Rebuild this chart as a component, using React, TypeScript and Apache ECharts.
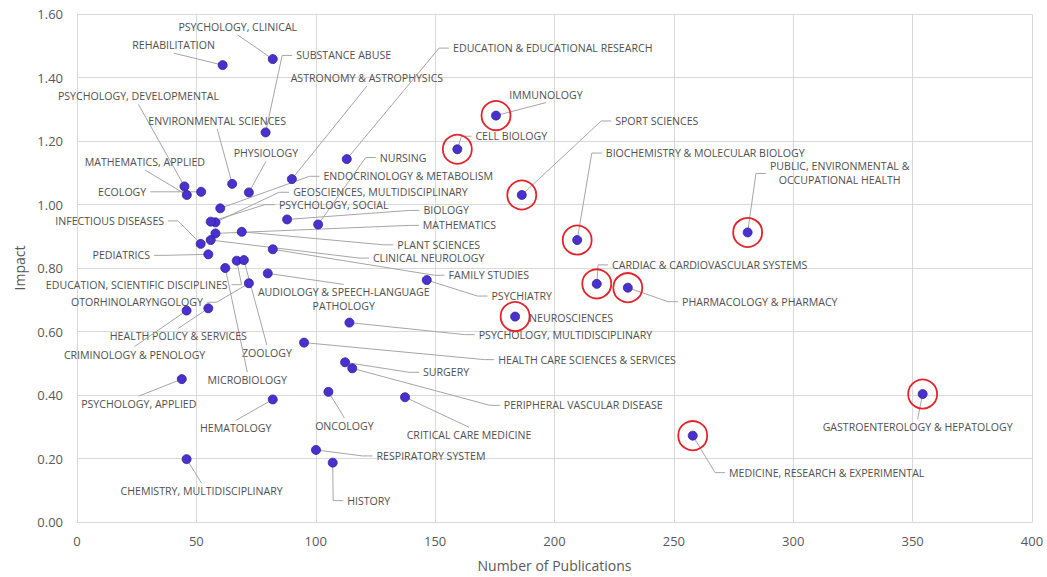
import React, { useEffect, useRef } from "react";
import * as echarts from "echarts";

// ---------- data ----------
const categories: string[] = [
  "PSYCHOLOGY, CLINICAL",
  "REHABILITATION",
  "SUBSTANCE ABUSE",
  "ASTRONOMY & ASTROPHYSICS",
  "PSYCHOLOGY, DEVELOPMENTAL",
  "ENVIRONMENTAL SCIENCES",
  "MATHEMATICS, APPLIED",
  "ECOLOGY",
  "PHYSIOLOGY",
  "EDUCATION & EDUCATIONAL RESEARCH",
  "NURSING",
  "ENDOCRINOLOGY & METABOLISM",
  "GEOSCIENCES, MULTIDISCIPLINARY",
  "PSYCHOLOGY, SOCIAL",
  "BIOLOGY",
  "MATHEMATICS",
  "PLANT SCIENCES",
  "CLINICAL NEUROLOGY",
  "INFECTIOUS DISEASES",
  "FAMILY STUDIES",
  "PEDIATRICS",
  "PSYCHIATRY",
  "EDUCATION, SCIENTIFIC DISCIPLINES",
  "ZOOLOGY",
  "MICROBIOLOGY",
  "AUDIOLOGY & SPEECH-LANGUAGE\nPATHOLOGY",
  "OTORHINOLARYNGOLOGY",
  "HEALTH POLICY & SERVICES",
  "CRIMINOLOGY & PENOLOGY",
  "PSYCHOLOGY, APPLIED",
  "HEMATOLOGY",
  "CHEMISTRY, MULTIDISCIPLINARY",
  "PSYCHOLOGY, MULTIDISCIPLINARY",
  "HEALTH CARE SCIENCES & SERVICES",
  "SURGERY",
  "PERIPHERAL VASCULAR DISEASE",
  "ONCOLOGY",
  "CRITICAL CARE MEDICINE",
  "RESPIRATORY SYSTEM",
  "HISTORY",
  "NEUROSCIENCES",
  "IMMUNOLOGY",
  "CELL BIOLOGY",
  "SPORT SCIENCES",
  "BIOCHEMISTRY & MOLECULAR BIOLOGY",
  "CARDIAC & CARDIOVASCULAR SYSTEMS",
  "PHARMACOLOGY & PHARMACY",
  "PUBLIC, ENVIRONMENTAL &\nOCCUPATIONAL HEALTH",
  "GASTROENTEROLOGY & HEPATOLOGY",
  "MEDICINE, RESEARCH & EXPERIMENTAL",
];

const publications: number[] = [
  82, 61, 79, 90, 45, 65, 46, 52, 72, 113,
  101, 60, 58, 56, 88, 58, 69, 56, 51.8, 82,
  55, 146.5, 66.9, 69.9, 62.1, 79.9, 72, 55, 45.9, 43.9,
  82, 45.9, 114.1, 95.1, 112.3, 115.3, 105.3, 137.4, 100.1, 107.1,
  183.5, 175.5, 159.3, 186.3, 209.5, 217.7, 230.7, 280.9, 354.2, 257.9,
];

const impact: number[] = [
  1.458, 1.439, 1.227, 1.08, 1.057, 1.065, 1.03, 1.04, 1.038, 1.143,
  0.937, 0.988, 0.944, 0.946, 0.953, 0.909, 0.914, 0.888, 0.876, 0.859,
  0.843, 0.762, 0.823, 0.825, 0.8, 0.783, 0.752, 0.673, 0.666, 0.45,
  0.386, 0.198, 0.628, 0.565, 0.503, 0.484, 0.41, 0.393, 0.227, 0.187,
  0.647, 1.28, 1.174, 1.03, 0.888, 0.75, 0.738, 0.912, 0.403, 0.272,
];

const highlighted: string[] = [
  "IMMUNOLOGY",
  "CELL BIOLOGY",
  "SPORT SCIENCES",
  "BIOCHEMISTRY & MOLECULAR BIOLOGY",
  "CARDIAC & CARDIOVASCULAR SYSTEMS",
  "PHARMACOLOGY & PHARMACY",
  "PUBLIC, ENVIRONMENTAL &\nOCCUPATIONAL HEALTH",
  "NEUROSCIENCES",
  "GASTROENTEROLOGY & HEPATOLOGY",
  "MEDICINE, RESEARCH & EXPERIMENTAL",
];

const xTicks = { min: 0, max: 400, interval: 50 };
const yTicks = { min: 0, max: 1.6, interval: 0.2 };

// ---------- label layout (offset of each label's centre from its point, px) ----------
const labelOffsets: [number, number][] = [
  [-35, -32], [-49, -20], [78, -77], [75, -101], [-46, -90],
  [-15, -63], [-42, -33], [-79, 0], [17, -39], [206, -111],
  [85, -67], [188, -32], [165, -30], [123, -17], [159, -9],
  [244, -8], [197, 13], [218, 18], [-91, -23], [216, 26],
  [-87, 1], [95, 16], [-100, 24], [23, 93], [22, 112],
  [76, 26], [-112, 19], [-30, 28], [-52, 44], [-43, 25],
  [-37, 29], [15, 32], [216, 12], [283, 17], [101, 10],
  [231, 37], [16, 34], [64, 38], [115, 6], [36, 38],
  [56, 1], [50, -21], [54, -13], [135, -74], [128, -87],
  [113, -19], [132, 14], [92, -59], [-5, 33], [134, 37],
];

// side of the label the leader line attaches to, when not automatic
const labelAnchors: Record<string, string> = {
  REHABILITATION: "b",
  "EDUCATION, SCIENTIFIC DISCIPLINES": "r",
  HISTORY: "l",
  IMMUNOLOGY: "b",
  "BIOCHEMISTRY & MOLECULAR BIOLOGY": "l",
  "CARDIAC & CARDIOVASCULAR SYSTEMS": "l",
  NEUROSCIENCES: "none",
};

const FONT = "Open Sans";
const LABEL_SIZE = 10.6;
const LABEL_LINE_H = 14;
const LABEL_COLOR = "#505050";
const LEADER_COLOR = "#a6a6a6";
const GAP = 4;
const ELBOW = 10;

let measureCtx: CanvasRenderingContext2D | null = null;
function textWidth(s: string): number {
  if (!measureCtx) {
    const c = document.createElement("canvas");
    measureCtx = c.getContext("2d");
  }
  if (!measureCtx) return s.length * 6.4;
  measureCtx.font = `${LABEL_SIZE}px "${FONT}"`;
  return measureCtx.measureText(s).width;
}

export default function App() {
  const ref = useRef<HTMLDivElement>(null);

  useEffect(() => {
    if (!ref.current) return;
    const chart = echarts.init(ref.current, undefined, { renderer: "svg" });

    const points = publications.map((x, i) => [x, impact[i], i]);
    const ringPoints = categories
      .map((c, i) => (highlighted.includes(c) ? [publications[i], impact[i]] : null))
      .filter((p) => p !== null);

    const axisColor = "#d9d9d9";
    const tickColor = "#595959";

    chart.setOption({
      animation: false,
      textStyle: { fontFamily: FONT },
      grid: { left: 77, right: 15, top: 14, bottom: 55 },
      xAxis: {
        type: "value",
        ...xTicks,
        name: "Number of Publications",
        nameLocation: "middle",
        nameGap: 36,
        nameTextStyle: { fontSize: 14, color: tickColor, fontFamily: FONT },
        axisLine: { show: true, lineStyle: { color: axisColor } },
        axisTick: { show: false },
        axisLabel: { color: tickColor, fontSize: 13, margin: 12, fontFamily: FONT },
        splitLine: { show: true, lineStyle: { color: axisColor, width: 1 } },
      },
      yAxis: {
        type: "value",
        ...yTicks,
        name: "Impact",
        nameLocation: "middle",
        nameGap: 48,
        nameTextStyle: { fontSize: 14, color: tickColor, fontFamily: FONT },
        axisLine: { show: true, lineStyle: { color: axisColor } },
        axisTick: { show: false },
        axisLabel: {
          color: tickColor,
          fontSize: 13,
          margin: 14,
          fontFamily: FONT,
          formatter: (v: number) => v.toFixed(2),
        },
        splitLine: { show: true, lineStyle: { color: axisColor, width: 1 } },
      },
      series: [
        {
          type: "custom",
          z: 2,
          silent: true,
          encode: { x: 0, y: 1 },
          data: points,
          renderItem: (params: any, api: any) => {
            const i = params.dataIndex;
            const p = api.coord([api.value(0), api.value(1)]);
            const [dx, dy] = labelOffsets[i];
            const cx = p[0] + dx;
            const cy = p[1] + dy;
            const text = categories[i];
            const lines = text.split("\n");
            const w = Math.max(...lines.map(textWidth));
            const h = lines.length * LABEL_LINE_H;
            let anchor = labelAnchors[text];
            if (!anchor) {
              if (Math.abs(dx) <= w / 2 + 10) anchor = dy < 0 ? "b" : "t";
              else anchor = dx > 0 ? "l" : "r";
            }
            const children: any[] = [];
            if (anchor !== "none") {
              let pts: number[][];
              if (anchor === "l") {
                const ex = cx - w / 2 - GAP;
                pts = [p, [ex - ELBOW, cy], [ex, cy]];
              } else if (anchor === "r") {
                const ex = cx + w / 2 + GAP;
                pts = [p, [ex + ELBOW, cy], [ex, cy]];
              } else if (anchor === "t") {
                pts = [p, [cx, cy - h / 2 - 1]];
              } else {
                pts = [p, [cx, cy + h / 2 + 1]];
              }
              children.push({
                type: "polyline",
                shape: { points: pts },
                style: { stroke: LEADER_COLOR, lineWidth: 1, fill: null },
              });
            }
            children.push({
              type: "text",
              style: {
                x: cx,
                y: cy,
                text,
                align: "center",
                verticalAlign: "middle",
                fontSize: LABEL_SIZE,
                fontFamily: FONT,
                lineHeight: LABEL_LINE_H,
                fill: LABEL_COLOR,
              },
            });
            return { type: "group", children };
          },
        },
        {
          type: "scatter",
          z: 3,
          data: points,
          symbolSize: 9,
          itemStyle: { color: "#4b30d0", borderColor: "#2c2392", borderWidth: 0.8, opacity: 1 },
        },
        {
          type: "scatter",
          z: 4,
          silent: true,
          data: ringPoints,
          symbolSize: 29,
          itemStyle: { color: "rgba(0,0,0,0)", borderColor: "#e3242b", borderWidth: 1.8, opacity: 1 },
        },
      ],
    });

    return () => chart.dispose();
  }, []);

  return (
    <div
      ref={ref}
      style={{ position: "absolute", left: 0, top: 0, width: 1047, height: 577, background: "#fff" }}
    />
  );
}
